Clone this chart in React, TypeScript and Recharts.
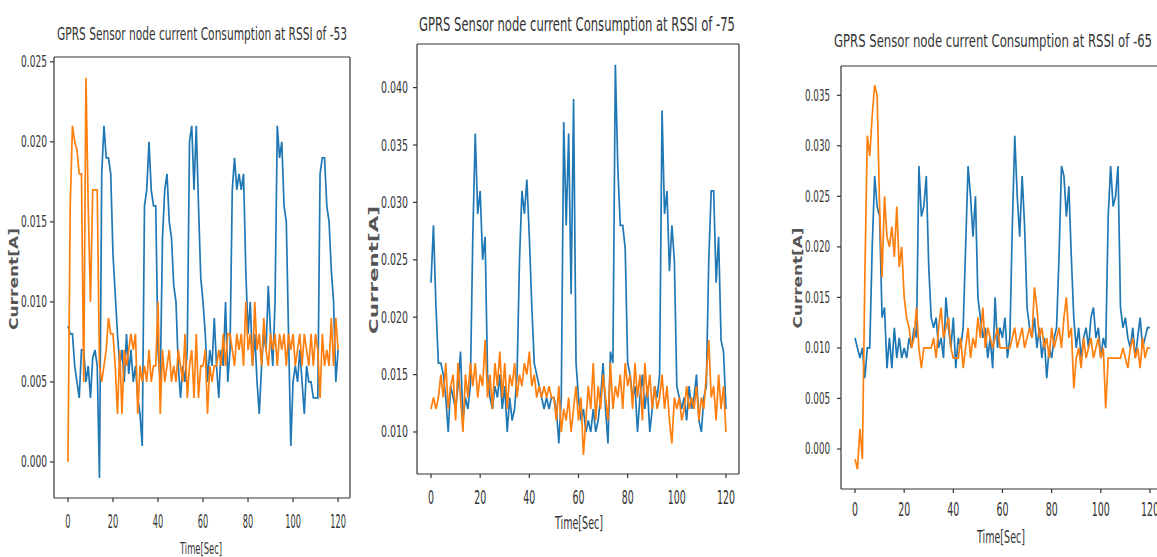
import { LineChart, Line, XAxis, YAxis, ReferenceLine } from "recharts";

// Current draw in amperes, one sample per second (t = 0..120 s).
const rssi53Blue = [
  0.0085, 0.008, 0.008, 0.006, 0.005, 0.004, 0.007, 0.007, 0.005, 0.006,
  0.004, 0.0065, 0.007, 0.006, -0.001, 0.018, 0.021, 0.019, 0.019, 0.018,
  0.013, 0.0105, 0.008, 0.006, 0.007, 0.005, 0.008, 0.0055, 0.007, 0.005,
  0.006, 0.004, 0.003, 0.001, 0.016, 0.017, 0.02, 0.017, 0.016, 0.016,
  0.007, 0.005, 0.014, 0.017, 0.018, 0.015, 0.014, 0.011, 0.01, 0.006,
  0.004, 0.006, 0.005, 0.007, 0.02, 0.021, 0.017, 0.021, 0.016, 0.0115,
  0.01, 0.008, 0.005, 0.007, 0.006, 0.009, 0.006, 0.004, 0.007, 0.006,
  0.01, 0.005, 0.007, 0.017, 0.019, 0.017, 0.018, 0.017, 0.018, 0.012,
  0.008, 0.01, 0.006, 0.008, 0.005, 0.003, 0.006, 0.008, 0.007, 0.011,
  0.008, 0.006, 0.01, 0.021, 0.019, 0.02, 0.016, 0.015, 0.008, 0.001,
  0.005, 0.006, 0.005, 0.007, 0.005, 0.003, 0.006, 0.005, 0.005, 0.004,
  0.004, 0.004, 0.018, 0.019, 0.019, 0.016, 0.015, 0.012, 0.01, 0.005,
  0.007,
];
const rssi53Orange = [
  0, 0.016, 0.021, 0.02, 0.0195, 0.018, 0.018, 0.005, 0.024, 0.016,
  0.01, 0.017, 0.017, 0.017, 0.006, 0.005, 0.006, 0.007, 0.009, 0.008,
  0.008, 0.006, 0.003, 0.007, 0.003, 0.007, 0.006, 0.007, 0.008, 0.007,
  0.008, 0.003, 0.006, 0.005, 0.006, 0.005, 0.007, 0.005, 0.006, 0.006,
  0.01, 0.003, 0.007, 0.005, 0.006, 0.007, 0.005, 0.006, 0.005, 0.007,
  0.006, 0.005, 0.008, 0.004, 0.006, 0.007, 0.004, 0.008, 0.004, 0.006,
  0.006, 0.007, 0.003, 0.006, 0.005, 0.006, 0.006, 0.007, 0.006, 0.008,
  0.006, 0.008, 0.008, 0.007, 0.006, 0.008, 0.007, 0.008, 0.006, 0.01,
  0.007, 0.008, 0.006, 0.01, 0.007, 0.008, 0.006, 0.009, 0.007, 0.006,
  0.008, 0.007, 0.008, 0.006, 0.008, 0.007, 0.008, 0.006, 0.008, 0.007,
  0.008, 0.006, 0.007, 0.008, 0.006, 0.008, 0.007, 0.006, 0.008, 0.006,
  0.008, 0.007, 0.004, 0.008, 0.006, 0.007, 0.006, 0.009, 0.006, 0.009,
  0.007,
];
const rssi75Blue = [
  0.023, 0.028, 0.021, 0.016, 0.016, 0.015, 0.013, 0.01, 0.014, 0.013,
  0.012, 0.014, 0.017, 0.011, 0.013, 0.012, 0.014, 0.027, 0.036, 0.029,
  0.031, 0.025, 0.027, 0.015, 0.013, 0.012, 0.014, 0.013, 0.015, 0.012,
  0.014, 0.01, 0.013, 0.011, 0.012, 0.015, 0.025, 0.031, 0.029, 0.032,
  0.027, 0.021, 0.016, 0.015, 0.014, 0.013, 0.012, 0.013, 0.012, 0.013,
  0.013, 0.012, 0.009, 0.013, 0.037, 0.028, 0.036, 0.022, 0.039, 0.016,
  0.013, 0.011, 0.012, 0.01, 0.011, 0.01, 0.012, 0.01, 0.011, 0.013,
  0.016, 0.012, 0.009, 0.017, 0.016, 0.042, 0.033, 0.028, 0.028, 0.026,
  0.016, 0.015, 0.013, 0.014, 0.01, 0.013, 0.015, 0.012, 0.014, 0.01,
  0.012, 0.014, 0.013, 0.015, 0.038, 0.029, 0.031, 0.024, 0.028, 0.025,
  0.014, 0.013, 0.012, 0.013, 0.011, 0.014, 0.012, 0.013, 0.015, 0.011,
  0.01, 0.013, 0.014, 0.025, 0.031, 0.031, 0.023, 0.027, 0.018, 0.017,
  0.012,
];
const rssi75Orange = [
  0.012, 0.013, 0.012, 0.013, 0.015, 0.013, 0.016, 0.012, 0.014, 0.015,
  0.011, 0.016, 0.013, 0.01, 0.015, 0.013, 0.016, 0.014, 0.016, 0.013,
  0.015, 0.014, 0.018, 0.013, 0.015, 0.012, 0.016, 0.014, 0.017, 0.013,
  0.016, 0.012, 0.015, 0.014, 0.016, 0.013, 0.015, 0.014, 0.016, 0.015,
  0.017, 0.014, 0.015, 0.013, 0.014, 0.013, 0.014, 0.013, 0.014, 0.013,
  0.013, 0.011, 0.014, 0.01, 0.012, 0.011, 0.013, 0.01, 0.012, 0.014,
  0.011, 0.013, 0.008, 0.011, 0.014, 0.012, 0.016, 0.011, 0.014, 0.012,
  0.015, 0.013, 0.011, 0.016, 0.012, 0.014, 0.013, 0.015, 0.012, 0.016,
  0.014, 0.015, 0.012, 0.016, 0.013, 0.015, 0.011, 0.016, 0.013, 0.015,
  0.012, 0.014, 0.012, 0.013, 0.015, 0.012, 0.014, 0.011, 0.009, 0.013,
  0.012, 0.013, 0.011, 0.012, 0.014, 0.012, 0.013, 0.012, 0.014, 0.011,
  0.013, 0.012, 0.015, 0.018, 0.013, 0.014, 0.011, 0.015, 0.012, 0.014,
  0.01,
];
const rssi65Blue = [
  0.011, 0.01, 0.009, 0.01, 0.007, 0.01, 0.01, 0.02, 0.027, 0.024,
  0.023, 0.013, 0.014, 0.008, 0.011, 0.008, 0.012, 0.009, 0.011, 0.009,
  0.01, 0.009, 0.011, 0.01, 0.012, 0.011, 0.028, 0.023, 0.024, 0.027,
  0.018, 0.013, 0.012, 0.013, 0.01, 0.011, 0.009, 0.015, 0.012, 0.01,
  0.013, 0.008, 0.011, 0.01, 0.012, 0.02, 0.028, 0.025, 0.021, 0.025,
  0.015, 0.013, 0.011, 0.012, 0.009, 0.011, 0.008, 0.015, 0.01, 0.012,
  0.011, 0.013, 0.009, 0.011, 0.022, 0.031, 0.025, 0.021, 0.027, 0.022,
  0.014, 0.012, 0.011, 0.013, 0.01, 0.012, 0.009, 0.011, 0.007, 0.01,
  0.009, 0.011, 0.012, 0.019, 0.028, 0.027, 0.023, 0.026, 0.019, 0.013,
  0.01, 0.012, 0.009, 0.011, 0.012, 0.01, 0.013, 0.014, 0.011, 0.012,
  0.009, 0.011, 0.01, 0.023, 0.028, 0.024, 0.025, 0.028, 0.014, 0.012,
  0.013, 0.011, 0.01, 0.012, 0.009, 0.011, 0.013, 0.01, 0.011, 0.012,
  0.012,
];
const rssi65Orange = [
  -0.001, -0.002, 0.002, -0.001, 0.017, 0.031, 0.029, 0.033, 0.036, 0.035,
  0.024, 0.017, 0.025, 0.021, 0.02, 0.022, 0.019, 0.024, 0.018, 0.02,
  0.015, 0.013, 0.012, 0.01, 0.011, 0.014, 0.01, 0.008, 0.01, 0.01,
  0.01, 0.01, 0.011, 0.009, 0.012, 0.014, 0.011, 0.012, 0.013, 0.01,
  0.009, 0.009, 0.009, 0.011, 0.008, 0.01, 0.012, 0.009, 0.011, 0.01,
  0.013, 0.011, 0.014, 0.01, 0.012, 0.011, 0.01, 0.011, 0.012, 0.01,
  0.01, 0.01, 0.01, 0.01, 0.011, 0.012, 0.01, 0.011, 0.012, 0.01,
  0.011, 0.012, 0.011, 0.016, 0.014, 0.011, 0.012, 0.01, 0.011, 0.009,
  0.012, 0.01, 0.011, 0.012, 0.01, 0.013, 0.015, 0.011, 0.012, 0.006,
  0.009, 0.01, 0.008, 0.011, 0.009, 0.01, 0.011, 0.009, 0.01, 0.011,
  0.009, 0.01, 0.004, 0.009, 0.009, 0.009, 0.009, 0.009, 0.009, 0.01,
  0.009, 0.008, 0.01, 0.011, 0.009, 0.01, 0.008, 0.011, 0.009, 0.01,
  0.01,
];

const titles = [
  "GPRS Sensor node current Consumption at RSSI of -53",
  "GPRS Sensor node current Consumption at RSSI of -75",
  "GPRS Sensor node current Consumption at RSSI of -65",
];
const timeTicks = [0, 20, 40, 60, 80, 100, 120];
const ticks53 = [0, 0.005, 0.01, 0.015, 0.02, 0.025];
const ticks75 = [0.01, 0.015, 0.02, 0.025, 0.03, 0.035, 0.04];
const ticks65 = [0, 0.005, 0.01, 0.015, 0.02, 0.025, 0.03, 0.035];
const xLabel = "Time[Sec]";
const yLabel = "Current[A]";

const BLUE = "#1f77b4";
const ORANGE = "#ff7f0e";
const INK = "#333";
const FONT = "'DejaVu Sans', sans-serif";

type Panel = {
  title: string;
  blue: number[];
  orange: number[];
  yTicks: number[];
  left: number;
  width: number;
  top: number;
  right: number;
  xAxisH: number;
  yAxisW: number;
  xDomain: [number, number];
  yDomain: [number, number];
  titleAt: { x: number; y: number; w: number; size: number };
  yTick: { size: number; len: number; dx: number };
  xTick: { size: number; digit: number; dy: number };
  xLabelAt: { x: number; y: number; w: number; size: number };
  yLabelAt: { x: number; y: number; len: number; size: number };
};

const panels: Panel[] = [
  {
    title: titles[0],
    blue: rssi53Blue,
    orange: rssi53Orange,
    yTicks: ticks53,
    left: 0,
    width: 360,
    top: 57,
    right: 10,
    xAxisH: 59,
    yAxisW: 54,
    xDomain: [-6.2, 125.3],
    yDomain: [-0.00225, 0.0253],
    titleAt: { x: 57, y: 40, w: 290, size: 18 },
    yTick: { size: 15.5, len: 26, dx: -1 },
    xTick: { size: 20, digit: 5.2, dy: 17 },
    xLabelAt: { x: 201, y: 554, w: 42, size: 16.5 },
    yLabelAt: { x: 14, y: 279, len: 102, size: 11.5 },
  },
  {
    title: titles[1],
    blue: rssi75Blue,
    orange: rssi75Orange,
    yTicks: ticks75,
    left: 360,
    width: 400,
    top: 44,
    right: 21,
    xAxisH: 83,
    yAxisW: 57,
    xDomain: [-5.7, 125.3],
    yDomain: [0.00634, 0.0438],
    titleAt: { x: 419, y: 31, w: 316, size: 19.5 },
    yTick: { size: 16.5, len: 27, dx: -3 },
    xTick: { size: 20, digit: 6, dy: 17 },
    xLabelAt: { x: 579, y: 529, w: 48, size: 17 },
    yLabelAt: { x: 374, y: 270, len: 128, size: 11.5 },
  },
  {
    title: titles[2],
    blue: rssi65Blue,
    orange: rssi65Orange,
    yTicks: ticks65,
    left: 760,
    width: 420,
    top: 66,
    right: 17,
    xAxisH: 68,
    yAxisW: 81,
    xDomain: [-5.7, 125.3],
    yDomain: [-0.00396, 0.0379],
    titleAt: { x: 834, y: 47, w: 318, size: 18.5 },
    yTick: { size: 16.5, len: 25, dx: -5 },
    xTick: { size: 20, digit: 6, dy: 14 },
    xLabelAt: { x: 1001, y: 543, w: 48, size: 17 },
    yLabelAt: { x: 798, y: 278, len: 101, size: 11.5 },
  },
];

function CurrentPanel({ p }: { p: Panel }) {
  const rows = p.blue.map((b, i) => ({ t: i, blue: b, orange: p.orange[i] }));

  const xTick = (props: any) => {
    const label = String(props.payload.value);
    return (
      <text
        x={props.x}
        y={props.y + p.xTick.dy}
        textAnchor="middle"
        dominantBaseline="central"
        fontFamily={FONT}
        fontSize={p.xTick.size}
        fill={INK}
        textLength={label.length * p.xTick.digit}
        lengthAdjust="spacingAndGlyphs"
      >
        {label}
      </text>
    );
  };

  const yTick = (props: any) => {
    const label = Number(props.payload.value).toFixed(3);
    return (
      <text
        x={props.x + p.yTick.dx}
        y={props.y}
        textAnchor="end"
        dominantBaseline="central"
        fontFamily={FONT}
        fontSize={p.yTick.size}
        fill={INK}
        textLength={p.yTick.len}
        lengthAdjust="spacingAndGlyphs"
      >
        {label}
      </text>
    );
  };

  return (
    <div style={{ position: "absolute", left: p.left, top: 0 }}>
      <LineChart
        width={p.width}
        height={557}
        data={rows}
        margin={{ top: p.top, right: p.right, bottom: 0, left: 0 }}
      >
        <XAxis
          type="number"
          dataKey="t"
          domain={p.xDomain}
          ticks={timeTicks}
          interval={0}
          allowDataOverflow
          height={p.xAxisH}
          tickSize={4}
          stroke={INK}
          strokeWidth={1.2}
          tick={xTick}
        />
        <YAxis
          type="number"
          domain={p.yDomain}
          ticks={p.yTicks}
          interval={0}
          allowDataOverflow
          width={p.yAxisW}
          tickSize={4}
          stroke={INK}
          strokeWidth={1.2}
          tick={yTick}
        />
        {/* top and right spines of the axes box */}
        <ReferenceLine y={p.yDomain[1]} stroke={INK} strokeWidth={1.2} />
        <ReferenceLine x={p.xDomain[1]} stroke={INK} strokeWidth={1.2} />
        <Line
          type="linear"
          dataKey="blue"
          stroke={BLUE}
          strokeWidth={1.7}
          dot={false}
          isAnimationActive={false}
        />
        <Line
          type="linear"
          dataKey="orange"
          stroke={ORANGE}
          strokeWidth={1.7}
          dot={false}
          isAnimationActive={false}
        />
      </LineChart>
    </div>
  );
}

export default function App() {
  return (
    <div
      style={{
        position: "fixed",
        left: 0,
        top: 0,
        width: 1157,
        height: 557,
        overflow: "hidden",
        background: "#fff",
      }}
    >
      {panels.map((p) => (
        <CurrentPanel key={p.title} p={p} />
      ))}
      <svg
        width={1157}
        height={557}
        style={{ position: "absolute", left: 0, top: 0, pointerEvents: "none" }}
      >
        {panels.map((p) => (
          <g key={p.title} fill={INK} fontFamily={FONT}>
            <text
              x={p.titleAt.x}
              y={p.titleAt.y}
              fontSize={p.titleAt.size}
              textLength={p.titleAt.w}
              lengthAdjust="spacingAndGlyphs"
            >
              {p.title}
            </text>
            <text
              x={p.xLabelAt.x}
              y={p.xLabelAt.y}
              textAnchor="middle"
              fontSize={p.xLabelAt.size}
              textLength={p.xLabelAt.w}
              lengthAdjust="spacingAndGlyphs"
            >
              {xLabel}
            </text>
            <text
              x={p.yLabelAt.x}
              y={p.yLabelAt.y}
              textAnchor="middle"
              dominantBaseline="central"
              fontSize={p.yLabelAt.size}
              fontWeight="bold"
              fill="#555"
              textLength={p.yLabelAt.len}
              lengthAdjust="spacingAndGlyphs"
              transform={`rotate(-90 ${p.yLabelAt.x} ${p.yLabelAt.y})`}
            >
              {yLabel}
            </text>
          </g>
        ))}
      </svg>
    </div>
  );
}
